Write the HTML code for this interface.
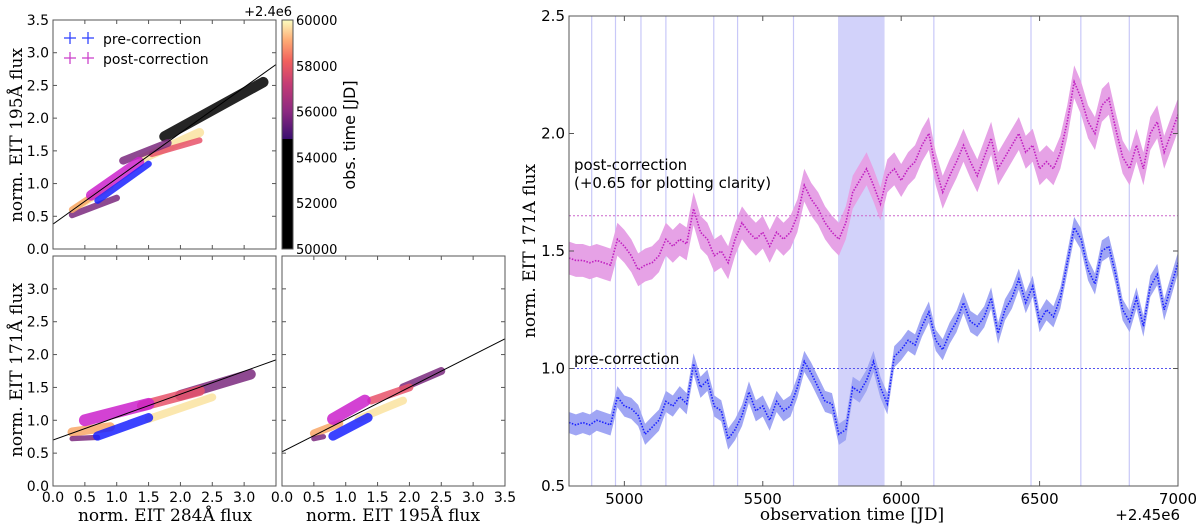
<!DOCTYPE html>
<html><head><meta charset="utf-8"><style>
html,body{margin:0;padding:0;background:#fff;}
svg{display:block;font-family:"DejaVu Sans","Liberation Sans",sans-serif;}
.serif{font-family:"DejaVu Serif","Liberation Serif",serif;}
</style></head><body>
<svg id="fig" width="1200" height="526" viewBox="0 0 1200 526" xmlns="http://www.w3.org/2000/svg">
<defs>
<linearGradient id="cbgrad" x1="0" y1="1" x2="0" y2="0">
<stop offset="0" stop-color="#000"/><stop offset="0.48" stop-color="#000"/>
<stop offset="0.481" stop-color="#3b0f70"/><stop offset="0.6" stop-color="#8c2981"/>
<stop offset="0.72" stop-color="#c43c75"/><stop offset="0.82" stop-color="#f1605d"/>
<stop offset="0.91" stop-color="#feaa74"/><stop offset="1" stop-color="#fcfdbf"/>
</linearGradient>
<clipPath id="cTL"><rect x="53" y="20" width="223" height="229"/></clipPath>
<clipPath id="cBL"><rect x="53" y="256" width="223" height="230"/></clipPath>
<clipPath id="cBR"><rect x="282" y="256" width="223" height="230"/></clipPath>
<clipPath id="cR"><rect x="569" y="16" width="609" height="470"/></clipPath>
</defs>
<g id="left"></g>
<g id="right"></g>
</svg>
<script>
// ---------- scatter data (cluster segments: colorIndex,x1,y1,x2,y2,halfwidth) ----------
const clusterColors = ["#000000","#fbe3a0","#e8536b","#7b2a7e","#f8a868","#cc22cc","#1a22ff"];
const tlClusters = [
 [0,1.75,1.72,3.3,2.55,0.08],[1,1.4,1.38,2.3,1.78,0.07],[1,0.35,0.62,0.9,0.95,0.05],
 [2,1.55,1.45,2.3,1.66,0.045],[3,0.3,0.52,1.0,0.78,0.05],[3,1.1,1.35,1.8,1.62,0.06],
 [4,0.3,0.6,0.7,0.86,0.05],[5,0.6,0.82,1.35,1.33,0.08],[6,0.7,0.74,1.5,1.3,0.05]];
const blClusters = [
 [3,2.0,1.38,3.1,1.7,0.08],[2,1.4,1.22,2.3,1.45,0.08],[1,1.5,1.02,2.5,1.35,0.06],
 [4,0.3,0.82,0.9,0.9,0.07],[3,0.3,0.72,0.7,0.74,0.04],[5,0.5,1.0,1.5,1.25,0.09],
 [6,0.7,0.76,1.5,1.04,0.07]];
const brClusters = [
 [3,1.9,1.5,2.5,1.75,0.06],[2,1.4,1.3,2.0,1.5,0.06],[1,1.2,1.02,1.9,1.3,0.06],
 [4,0.5,0.8,0.9,0.95,0.06],[3,0.5,0.72,0.65,0.75,0.04],[5,0.8,1.02,1.3,1.3,0.09],[6,0.8,0.76,1.35,1.04,0.07]];
const fitTL = [0.38,2.82];
const fitBL = [0.70,1.92];
const fitBR = [0.52,2.24];
const scTicks = ["0.0","0.5","1.0","1.5","2.0","2.5","3.0","3.5"];
const cbTicks = ["50000","52000","54000","56000","58000","60000"];

// ---------- time series data ----------
const tStart = 4800, tStep = 25;
const preVals = [0.77,0.76,0.77,0.76,0.78,0.77,0.76,0.88,0.84,0.83,0.80,0.72,0.75,0.78,0.86,0.84,0.88,0.85,1.02,0.92,0.95,0.84,0.82,0.70,0.74,0.80,0.90,0.82,0.84,0.78,0.86,0.82,0.84,0.92,1.03,0.98,0.92,0.86,0.85,0.72,0.74,0.92,0.90,0.95,1.03,0.92,0.85,1.05,1.08,1.12,1.10,1.18,1.24,1.12,1.08,1.15,1.20,1.28,1.20,1.18,1.22,1.30,1.15,1.25,1.30,1.38,1.28,1.35,1.20,1.25,1.22,1.30,1.45,1.60,1.55,1.42,1.36,1.50,1.52,1.40,1.25,1.20,1.30,1.18,1.35,1.40,1.25,1.35,1.45];
const postVals = [1.47,1.46,1.46,1.45,1.46,1.45,1.44,1.55,1.52,1.48,1.42,1.44,1.45,1.48,1.55,1.52,1.55,1.53,1.68,1.58,1.55,1.48,1.50,1.45,1.55,1.62,1.58,1.55,1.58,1.52,1.58,1.55,1.58,1.65,1.78,1.72,1.68,1.62,1.58,1.55,1.62,1.75,1.80,1.85,1.78,1.70,1.82,1.85,1.80,1.85,1.88,1.95,2.00,1.85,1.75,1.82,1.88,1.95,1.88,1.82,1.90,1.98,1.85,1.90,1.95,2.00,1.92,1.95,1.85,1.88,1.85,1.92,2.05,2.22,2.15,2.05,2.00,2.12,2.15,2.02,1.90,1.85,1.95,1.85,2.00,2.05,1.92,2.00,2.08];
const preErr = [0.045];
const postErr = [0.07];
const vLines = [4882,4968,5060,5150,5323,5409,5611,6118,6469,6649,6824];
const gapSpan = [5772,5940];
const tsXTicks = [5000,5500,6000,6500,7000];
const tsYTicks = [0.5,1.0,1.5,2.0,2.5];
const refLines = [1.0,1.65];

const NS="http://www.w3.org/2000/svg";
function mk(tag,attrs,parent,txt){const e=document.createElementNS(NS,tag);for(const k in attrs)e.setAttribute(k,attrs[k]);if(txt!==undefined)e.textContent=txt;parent.appendChild(e);return e;}
const L=document.getElementById('left'), R=document.getElementById('right');

function panel(x0,y0,w,h,clusters,fit,clip,name,yLabels,xLabels){
  const g=mk('g',{},L);
  
  
  const sx=v=>x0+v/3.5*w, sy=v=>y0+h-v/3.5*h;
  const pg=mk('g',{'clip-path':'url(#'+clip+')'},g);
  clusters.forEach(c=>{
    const ln=mk('line',{x1:sx(c[1]),y1:sy(c[2]),x2:sx(c[3]),y2:sy(c[4]),stroke:clusterColors[c[0]],'stroke-width':c[5]*2*h/3.5,'stroke-linecap':'round',opacity:0.85},pg);
    
    
  });
  const f=mk('line',{x1:sx(0),y1:sy(fit[0]),x2:sx(3.5),y2:sy(fit[1]),stroke:'#000','stroke-width':1},pg);
  
  
  const fr=mk('rect',{x:x0,y:y0,width:w,height:h,fill:'none',stroke:'#555','stroke-width':1},g);
  
  
  scTicks.forEach((t,i)=>{
    const v=i*0.5;
    mk('line',{x1:sx(v),y1:y0+h,x2:sx(v),y2:y0+h-4,stroke:'#555'},g);
    mk('line',{x1:sx(v),y1:y0,x2:sx(v),y2:y0+4,stroke:'#555'},g);
    mk('line',{x1:x0,y1:sy(v),x2:x0+4,y2:sy(v),stroke:'#555'},g);
    mk('line',{x1:x0+w,y1:sy(v),x2:x0+w-4,y2:sy(v),stroke:'#555'},g);
    if(yLabels && (yLabels===2 || v<3.5)){const tx=mk('text',{x:x0-4,y:sy(v)+5,'text-anchor':'end','font-size':14},g,t);}
    if(xLabels && (xLabels===2 || v<3.5)){const tx=mk('text',{x:sx(v),y:y0+h+16,'text-anchor':'middle','font-size':14},g,t);}
  });
}
panel(53,20,223,229,tlClusters,fitTL,'cTL','scatter-195-vs-284',2,0);
panel(53,256,223,230,blClusters,fitBL,'cBL','scatter-171-vs-284',1,1);
panel(282,256,223,230,brClusters,fitBR,'cBR','scatter-171-vs-195',0,2);

// legend
function cross(x,y,c,p){mk('line',{x1:x-6,y1:y,x2:x+6,y2:y,stroke:c,'stroke-width':1.3},p);mk('line',{x1:x,y1:y-6,x2:x,y2:y+6,stroke:c,'stroke-width':1.3},p);}
const lg=mk('g',{},L);


cross(70,38,'#3344ff',lg);cross(88,38,'#3344ff',lg);
cross(70,58,'#cc44cc',lg);cross(88,58,'#cc44cc',lg);
mk('text',{x:103,y:44,'font-size':14},lg,'pre-correction');
mk('text',{x:103,y:64,'font-size':14},lg,'post-correction');

// colorbar
const cb=mk('g',{},L);


mk('rect',{x:282,y:20,width:11,height:229,fill:'url(#cbgrad)',stroke:'#555'},cb);
cbTicks.forEach((t,i)=>{const y=249-i*229/5;mk('text',{x:296,y:y+5,'font-size':13},cb,t);});
mk('text',{x:292,y:16,'text-anchor':'end','font-size':13},cb,'+2.4e6');
mk('text',{x:0,y:0,'font-size':16,transform:'translate(355,135) rotate(-90)','text-anchor':'middle'},cb,'obs. time [JD]');

// left axis titles
const t1=mk('text',{class:'serif','font-size':17,'text-anchor':'middle',transform:'translate(22,135) rotate(-90)'},L,'norm. EIT 195Å flux');

const t2=mk('text',{class:'serif','font-size':17,'text-anchor':'middle',transform:'translate(22,370) rotate(-90)'},L,'norm. EIT 171Å flux');

const t3=mk('text',{class:'serif','font-size':17,'text-anchor':'middle',x:165,y:521},L,'norm. EIT 284Å flux');

const t4=mk('text',{class:'serif','font-size':17,'text-anchor':'middle',x:393,y:521},L,'norm. EIT 195Å flux');


// ---------- time series ----------
const X0=569,X1=1178,Y0=16,Y1=486;
const tx=v=>X0+(v-4800)/2200*(X1-X0), ty=v=>Y1-(v-0.5)/2*(Y1-Y0);
const rc=mk('g',{'clip-path':'url(#cR)'},R);
const gs=mk('rect',{x:tx(gapSpan[0]),y:Y0,width:tx(gapSpan[1])-tx(gapSpan[0]),height:Y1-Y0,fill:'#d2d2fa'},rc);

vLines.forEach(v=>{const l=mk('line',{x1:tx(v),y1:Y0,x2:tx(v),y2:Y1,stroke:'#c8c8f8','stroke-width':1.2},rc);});
function series(vals,err,band,line,name){
  const g=mk('g',{},rc);
  
  
  let up=[],dn=[],pts=[];
  vals.forEach((v,i)=>{const x=tx(tStart+i*tStep);up.push(x+','+ty(v+err));dn.unshift(x+','+ty(v-err));pts.push(x+','+ty(v));});
  mk('polygon',{points:up.concat(dn).join(' '),fill:band},g);
  mk('polyline',{points:pts.join(' '),fill:'none',stroke:line,'stroke-width':1.6,'stroke-dasharray':'1.5 1.5'},g);
}
series(postVals,postErr[0],'#e6a2e6','#c020c0','post-correction-series');
series(preVals,preErr[0],'#a0a6f4','#1a22ff','pre-correction-series');
refLines.forEach((v,i)=>{const l=mk('line',{x1:X0,y1:ty(v),x2:X1,y2:ty(v),stroke:i?'#cc66cc':'#5555ee','stroke-width':1,'stroke-dasharray':'2 2'},rc);});
const fr=mk('rect',{x:X0,y:Y0,width:X1-X0,height:Y1-Y0,fill:'none',stroke:'#555'},R);

tsXTicks.forEach(v=>{mk('line',{x1:tx(v),y1:Y1,x2:tx(v),y2:Y1-5,stroke:'#555'},R);mk('line',{x1:tx(v),y1:Y0,x2:tx(v),y2:Y0+5,stroke:'#555'},R);
  const t=mk('text',{x:tx(v),y:Y1+18,'text-anchor':'middle','font-size':15},R,String(v));});
tsYTicks.forEach(v=>{mk('line',{x1:X0,y1:ty(v),x2:X0+5,y2:ty(v),stroke:'#555'},R);mk('line',{x1:X1,y1:ty(v),x2:X1-5,y2:ty(v),stroke:'#555'},R);
  const t=mk('text',{x:X0-4,y:ty(v)+5,'text-anchor':'end','font-size':15},R,v.toFixed(1));});
mk('text',{x:574,y:170,'font-size':15},R,'post-correction');
mk('text',{x:574,y:188,'font-size':15},R,'(+0.65 for plotting clarity)');
mk('text',{x:574,y:364,'font-size':15},R,'pre-correction');
const rt=mk('text',{class:'serif','font-size':17,'text-anchor':'middle',transform:'translate(535,251) rotate(-90)'},R,'norm. EIT 171A flux');

const xt=mk('text',{class:'serif','font-size':17,'text-anchor':'middle',x:852,y:520},R,'observation time [JD]');

mk('text',{x:1180,y:520,'text-anchor':'end','font-size':15},R,'+2.45e6');
</script>
</body></html>
